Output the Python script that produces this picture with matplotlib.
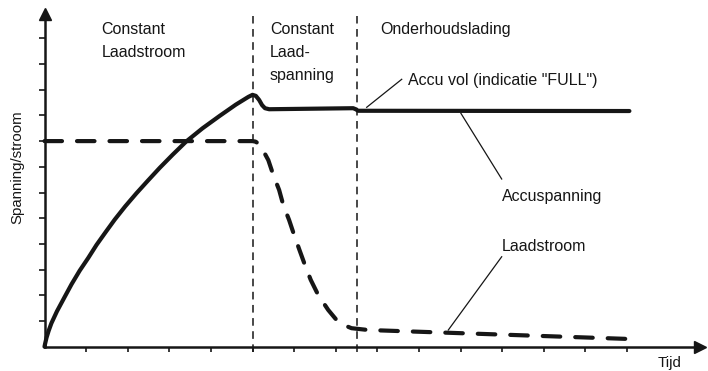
import matplotlib
matplotlib.use("Agg")
import matplotlib.pyplot as plt
from matplotlib import font_manager

# ---------------- data ----------------
volt_x = [0, 0.015, 0.05, 0.10, 0.165, 0.30, 0.486, 0.65, 0.846, 1.05, 1.25, 1.47, 1.69,
          1.94, 2.21, 2.49, 2.77, 3.08, 3.41, 3.80, 4.21, 4.60, 4.90, 5.0, 5.08, 5.16,
          5.23, 5.30, 5.40, 7.42, 7.48, 7.54, 14.06]
volt_y = [0, 0.12, 0.36, 0.62, 0.91, 1.38, 1.94, 2.43, 2.96, 3.45, 3.96, 4.46, 4.95,
          5.46, 5.97, 6.47, 6.96, 7.47, 7.99, 8.5, 8.98, 9.42, 9.72, 9.80, 9.76, 9.60,
          9.40, 9.28, 9.24, 9.28, 9.24, 9.18, 9.17]

curr_x = [0, 5.0, 5.07, 5.14, 5.25, 5.38, 5.50, 5.64, 5.74, 5.88, 6.00, 6.13, 6.26, 6.40,
          6.58, 6.82, 7.02, 7.20, 7.38, 7.78, 14.06]
curr_y = [8.0, 8.0, 7.98, 7.91, 7.65, 7.26, 6.68, 6.10, 5.51, 4.93, 4.35, 3.76, 3.18, 2.60,
          2.01, 1.43, 1.04, 0.84, 0.72, 0.65, 0.30]

phase_bounds = [5.0, 7.5]
x_ticks = list(range(1, 15))
y_ticks = list(range(1, 13))

phase_labels = [
    (["Constant", "Laadstroom"], 1.375),
    (["Constant", "Laad-", "spanning"], 5.42),
    (["Onderhoudslading"], 8.065),
]
phase_baselines = [12.155, 11.26, 10.38]

annotations = [
    # text, text x, text y (baseline), leader start, leader end
    ('Accu vol (indicatie "FULL")', 8.745, 10.18, (7.745, 9.315), (8.587, 10.405)),
    ("Accuspanning", 10.99, 5.67, (10.01, 9.08), (10.99, 6.525)),
    ("Laadstroom", 10.99, 3.72, (9.707, 0.65), (10.99, 3.50)),
]
x_label = "Tijd"
y_label = "Spanning/stroom"

# ---------------- fonts ----------------
names = {f.name for f in font_manager.fontManager.ttflist}
if "Liberation Sans Narrow" in names:
    fam = ["Liberation Sans Narrow", "DejaVu Sans"]
    fs = 13.2
    fs_small = 12.2
else:
    fam = ["Liberation Sans", "DejaVu Sans"]
    fs = 11.5
    fs_small = 10.8
plt.rcParams["font.family"] = fam

INK = "#161616"

fig = plt.figure(figsize=(7.08, 3.71), dpi=100)
ax = fig.add_axes([44.5 / 708, (371 - 346.7) / 371, (700 - 44.5) / 708, (346.7 - 14) / 371])
ax.set_xlim(0, (700 - 44.5) / 41.6)
ax.set_ylim(0, (346.7 - 14) / 25.7)

for s in ("top", "right"):
    ax.spines[s].set_visible(False)
for s in ("left", "bottom"):
    ax.spines[s].set_linewidth(1.8)
    ax.spines[s].set_color(INK)

ax.set_xticks(x_ticks)
ax.set_yticks(y_ticks)
ax.set_xticklabels([])
ax.set_yticklabels([])
ax.tick_params(axis="x", direction="out", length=3.8, width=1.2, color=INK)
ax.tick_params(axis="y", direction="out", length=4.3, width=1.2, color=INK)

# arrow heads
ax.plot(1, 0, ">", color=INK, markersize=9, transform=ax.get_yaxis_transform(), clip_on=False)
ax.plot(0, 1, "^", color=INK, markersize=9, transform=ax.get_xaxis_transform(), clip_on=False)

# phase boundaries
for b in phase_bounds:
    ax.plot([b, b], [-0.2, 12.85], color=INK, lw=1.1, linestyle=(0, (5.0, 3.6)), clip_on=False)

# curves
ax.plot(volt_x, volt_y, color=INK, lw=3.0, solid_joinstyle="round", solid_capstyle="round",
        clip_on=False)
ax.plot(curr_x, curr_y, color=INK, lw=3.0, linestyle=(0, (4.2, 3.6)),
        dash_capstyle="round", dash_joinstyle="round", clip_on=False)

# phase labels
for (lines, x) in phase_labels:
    for line, yb in zip(lines, phase_baselines):
        ax.text(x, yb, line, fontsize=fs, color=INK, ha="left", va="baseline")

# annotations
for text, tx, ty, p0, p1 in annotations:
    ax.plot([p0[0], p1[0]], [p0[1], p1[1]], color=INK, lw=0.9)
    ax.text(tx, ty, text, fontsize=fs, color=INK, ha="left", va="baseline")

ax.text(14.73, -0.80, x_label, fontsize=fs_small, color=INK, ha="left", va="baseline",
        clip_on=False)
ax.text(-0.66, 6.97, y_label, fontsize=fs_small, color=INK, ha="center", va="center",
        rotation=90, clip_on=False)

fig.savefig("out.png", dpi=100)
